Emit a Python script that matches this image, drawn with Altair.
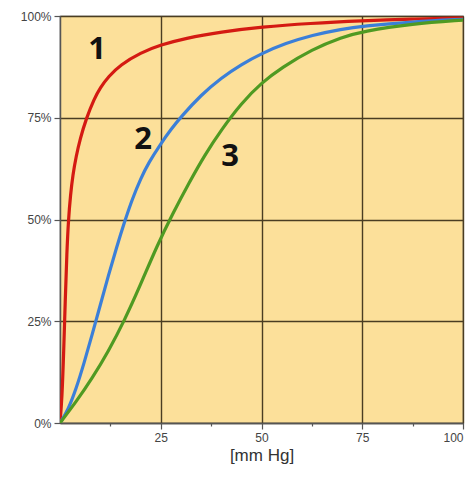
import altair as alt
import pandas as pd

# Curve 1 (red)
c1_x = [0, 0.5, 0.9, 1.3, 1.7, 2.1, 2.6, 3.2, 4.0, 5.0, 6.5, 8.5, 10, 12, 15, 20, 25, 31, 40, 50, 62, 75, 87, 100]
c1_y = [0, 6, 17, 30, 42, 50, 56, 61, 65.5, 69.8, 74.8, 79.7, 82.4, 85.1, 88, 91, 92.9, 94.5, 96.1, 97.3, 98.2, 98.85, 99.27, 99.5]
# Curve 2 (blue)
c2_x = [0, 2, 4, 6, 8, 10, 12, 14, 16, 18, 20, 22, 25, 27.5, 30, 35, 40, 45, 50, 56, 62.5, 70, 75, 87.5, 100]
c2_y = [0, 3.2, 8.4, 14.8, 21.8, 29.0, 36.2, 43.0, 49.4, 55.2, 60.0, 64.0, 68.6, 72.1, 75.2, 80.6, 84.8, 88.1, 90.8, 93.3, 95.3, 96.8, 97.5, 98.6, 99.2]
# Curve 3 (green)
c3_x = [0, 4, 8, 12, 16, 20, 24, 28, 32, 36, 40, 45, 50, 55, 62.5, 70, 75, 87.5, 100]
c3_y = [0, 5.2, 11.0, 17.6, 25.2, 34.0, 43.4, 51.5, 59.0, 66.0, 72.0, 78.6, 83.6, 87.3, 91.8, 94.8, 96.2, 98.1, 99.0]

label_text = ["1", "2", "3"]
label_x = [9.2, 20.6, 42.2]
label_y = [91.6, 69.5, 65.4]

x_ticks = [12.5, 25, 37.5, 50, 62.5, 75, 87.5, 100]
y_ticks = [0, 25, 50, 75, 100]

series_colors = ["#d41a12", "#3b7fd8", "#4f9a22"]

rows = []
for name, xs, ys in [("1", c1_x, c1_y), ("2", c2_x, c2_y), ("3", c3_x, c3_y)]:
    for i, (a, b) in enumerate(zip(xs, ys)):
        rows.append({"curve": name, "p": a, "s": b, "order": i})
df = pd.DataFrame(rows)
lab = pd.DataFrame({"t": label_text, "x": label_x, "y": label_y})

xscale = alt.Scale(domain=[0, 100], nice=False, zero=False)
yscale = alt.Scale(domain=[0, 100], nice=False, zero=False)

grid_color = "#4a3d22"

lines = alt.Chart(df).mark_line(strokeWidth=3.2, interpolate="basis", clip=True).encode(
    x=alt.X("p:Q", scale=xscale,
            axis=alt.Axis(values=x_ticks, title="[mm Hg]",
                          labelExpr="datum.value % 25 == 0 ? datum.value : ''",
                          grid=True, gridColor=grid_color, gridWidth=1.4,
                          gridOpacity={"condition": {"test": "datum.value % 25 != 0", "value": 0}, "value": 1},
                          tickSize={"condition": {"test": "datum.value % 25 != 0", "value": 3}, "value": 6},
                          tickColor="#555", tickWidth=1.2,
                          domainColor="#555", domainWidth=1.5,
                          labelFont="Liberation Sans", labelFontSize=12, labelColor="#444",
                          labelPadding=3,
                          titleFont="Liberation Sans", titleFontSize=17, titleFontWeight="normal",
                          titleColor="#333", titlePadding=4)),
    y=alt.Y("s:Q", scale=yscale,
            axis=alt.Axis(values=y_ticks, title=None,
                          labelExpr="datum.value + '%'",
                          grid=True, gridColor=grid_color, gridWidth=1.4,
                          tickSize=6, tickColor="#555", tickWidth=1.2,
                          domainColor="#555", domainWidth=1.5,
                          labelFont="Liberation Sans", labelFontSize=12, labelColor="#444",
                          labelPadding=3)),
    color=alt.Color("curve:N", scale=alt.Scale(domain=label_text, range=series_colors), legend=None),
    order="order:Q",
)

texts = alt.Chart(lab).mark_text(font="Open Sans", fontSize=31, fontWeight="bold", color="#111").encode(
    x=alt.X("x:Q", scale=xscale),
    y=alt.Y("y:Q", scale=yscale),
    text="t:N",
)

chart = alt.layer(lines, texts).properties(
    width=403, height=407,
    autosize=alt.AutoSizeParams(type="none"),
    padding={"left": 60, "top": 16, "right": 13, "bottom": 54},
    background="white",
).configure_view(fill="#fce09a", stroke="#555", strokeWidth=1.2)

chart.save("out.html", embed_options={"renderer": "svg", "actions": False})
